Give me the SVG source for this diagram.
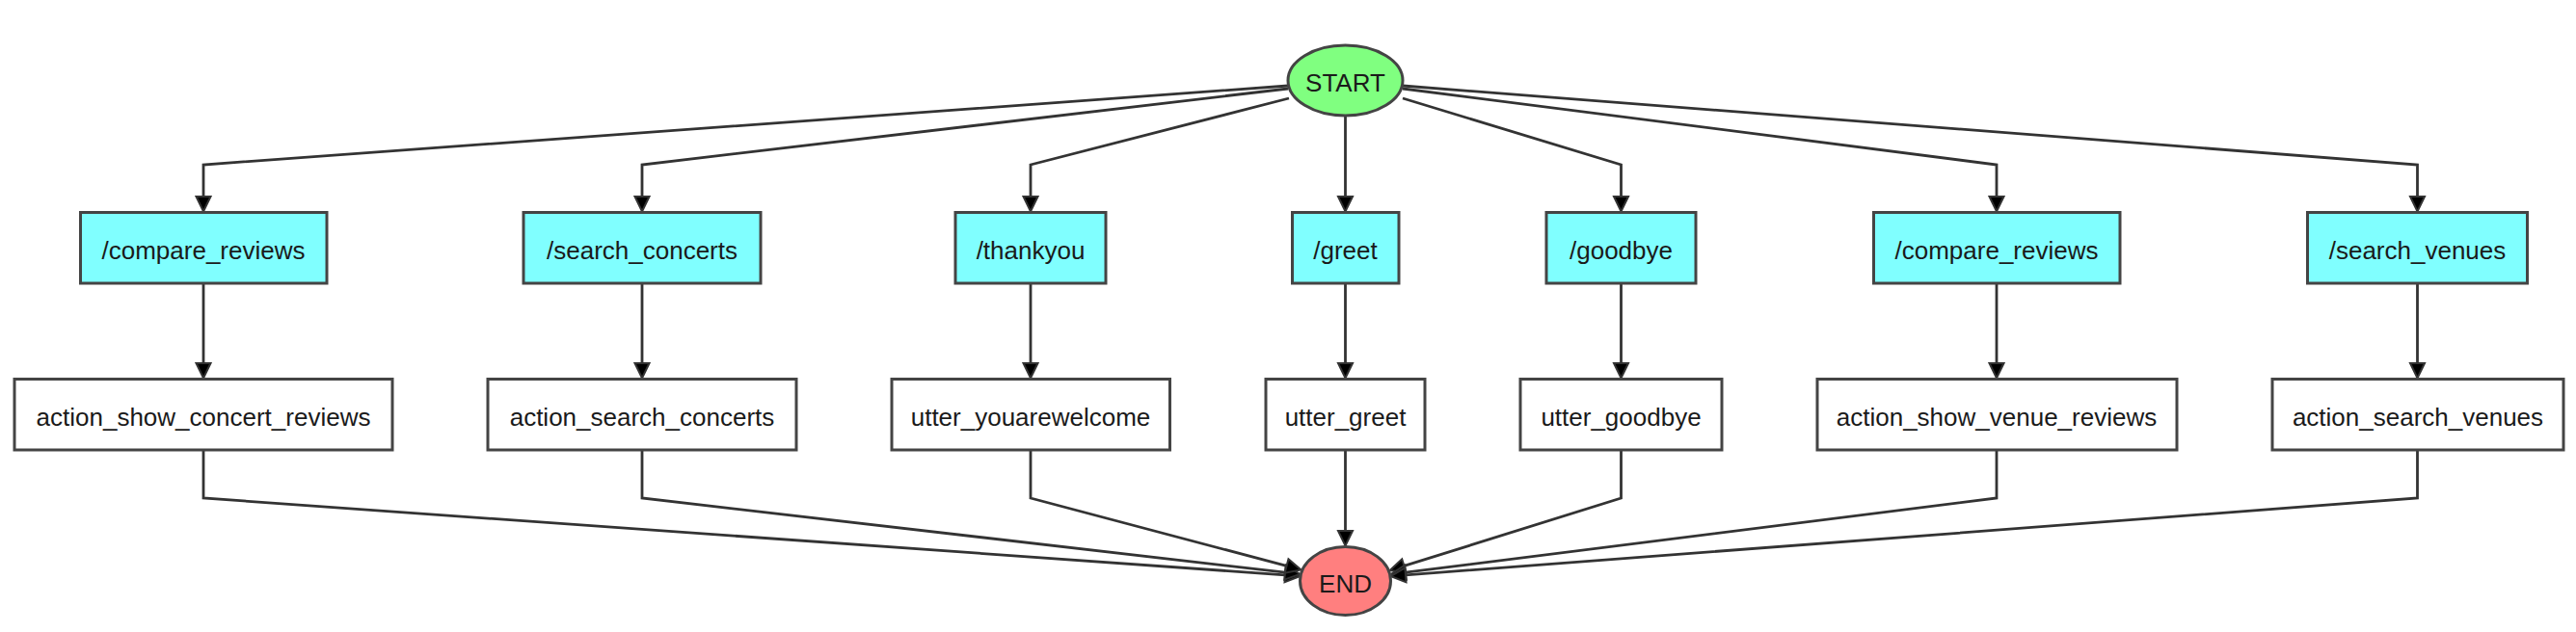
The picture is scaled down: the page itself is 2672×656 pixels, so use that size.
<svg xmlns="http://www.w3.org/2000/svg" width="2672" height="656" viewBox="0 0 2672 656">
<style>
.box{stroke:#444;stroke-width:3}
.intent{fill:#80ffff}
.action{fill:#ffffff}
.lbl{font-family:"Liberation Sans",Arial,Helvetica,sans-serif;font-size:26px;fill:#1a1a1a;text-anchor:middle}
.edge{fill:none;stroke:#333;stroke-width:2.8;marker-end:url(#arr)}
</style>
<defs>
<marker id="arr" markerUnits="userSpaceOnUse" viewBox="-2 -10 20 20" refX="0" refY="0" markerWidth="20" markerHeight="20" orient="auto" overflow="visible">
<path d="M0,-7.5 L15.5,0 L0,7.5 Z" fill="#000" stroke="#333" stroke-width="2" stroke-linejoin="miter"/>
</marker>
</defs>
<rect width="2672" height="656" fill="#fff"/>
<g id="connectors">
<path class="edge" d="M1336,89 L211,171 L211,204"/>
<path class="edge" d="M1336,92 L666,171 L666,204"/>
<path class="edge" d="M1337,102 L1069,171 L1069,204"/>
<path class="edge" d="M1395.5,121 L1395.5,204"/>
<path class="edge" d="M1455,102 L1681.5,171 L1681.5,204"/>
<path class="edge" d="M1455,92 L2071,171 L2071,204"/>
<path class="edge" d="M1455,89 L2507.5,171 L2507.5,204"/>
<path class="edge" d="M211,294 L211,377"/>
<path class="edge" d="M666,294 L666,377"/>
<path class="edge" d="M1069,294 L1069,377"/>
<path class="edge" d="M1395.5,295 L1395.5,377"/>
<path class="edge" d="M1681.5,295 L1681.5,377"/>
<path class="edge" d="M2071,294 L2071,377"/>
<path class="edge" d="M2507.5,294 L2507.5,377"/>
<path class="edge" d="M211,467 L211,517 L1333.04,596.87"/>
<path class="edge" d="M666,467 L666,517 L1333.1,594.19"/>
<path class="edge" d="M1069,467 L1069,517 L1334.53,587.43"/>
<path class="edge" d="M1395.5,467 L1395.5,551"/>
<path class="edge" d="M1681.5,467 L1681.5,517 L1456.47,587.43"/>
<path class="edge" d="M2071,467 L2071,517 L1457.9,594.19"/>
<path class="edge" d="M2507.5,467 L2507.5,517 L1457.96,596.87"/>
</g>
<g id="START">
<ellipse cx="1395.5" cy="83.5" rx="59.5" ry="36.5" fill="#80ff80" class="box"/>
<text class="lbl" x="1395.5" y="95">START</text>
</g>
<g id="END">
<ellipse cx="1395.5" cy="603" rx="47" ry="35.5" fill="#ff7f7f" class="box"/>
<text class="lbl" x="1395.5" y="615">END</text>
</g>
<g id="intent_compare_reviews_1">
<rect class="box intent" x="83.5" y="220.5" width="255.5" height="73.5"/>
<text class="lbl" x="211" y="269">/compare_reviews</text>
</g>
<g id="intent_search_concerts">
<rect class="box intent" x="543" y="220.5" width="246" height="73.5"/>
<text class="lbl" x="666" y="269">/search_concerts</text>
</g>
<g id="intent_thankyou">
<rect class="box intent" x="991" y="220.5" width="156" height="73.5"/>
<text class="lbl" x="1069" y="269">/thankyou</text>
</g>
<g id="intent_greet">
<rect class="box intent" x="1340.5" y="220.5" width="110.5" height="73.5"/>
<text class="lbl" x="1395.5" y="269">/greet</text>
</g>
<g id="intent_goodbye">
<rect class="box intent" x="1604" y="220.5" width="155" height="73.5"/>
<text class="lbl" x="1681.5" y="269">/goodbye</text>
</g>
<g id="intent_compare_reviews_2">
<rect class="box intent" x="1943.5" y="220.5" width="255.5" height="73.5"/>
<text class="lbl" x="2071" y="269">/compare_reviews</text>
</g>
<g id="intent_search_venues">
<rect class="box intent" x="2393.5" y="220.5" width="228" height="73.5"/>
<text class="lbl" x="2507.5" y="269">/search_venues</text>
</g>
<g id="action_show_concert_reviews">
<rect class="box action" x="15" y="393.5" width="392" height="73.5"/>
<text class="lbl" x="211" y="442">action_show_concert_reviews</text>
</g>
<g id="action_search_concerts">
<rect class="box action" x="506" y="393.5" width="320" height="73.5"/>
<text class="lbl" x="666" y="442">action_search_concerts</text>
</g>
<g id="utter_youarewelcome">
<rect class="box action" x="925" y="393.5" width="288.5" height="73.5"/>
<text class="lbl" x="1069" y="442">utter_youarewelcome</text>
</g>
<g id="utter_greet">
<rect class="box action" x="1313" y="393.5" width="165" height="73.5"/>
<text class="lbl" x="1395.5" y="442">utter_greet</text>
</g>
<g id="utter_goodbye">
<rect class="box action" x="1577" y="393.5" width="209" height="73.5"/>
<text class="lbl" x="1681.5" y="442">utter_goodbye</text>
</g>
<g id="action_show_venue_reviews">
<rect class="box action" x="1885" y="393.5" width="373" height="73.5"/>
<text class="lbl" x="2071" y="442">action_show_venue_reviews</text>
</g>
<g id="action_search_venues">
<rect class="box action" x="2357" y="393.5" width="302" height="73.5"/>
<text class="lbl" x="2508" y="442">action_search_venues</text>
</g>
</svg>
